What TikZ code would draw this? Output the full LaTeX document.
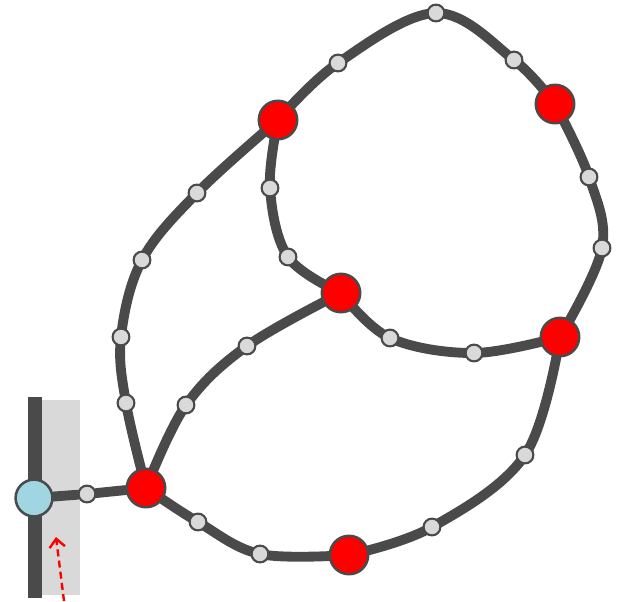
\documentclass[tikz,border=0pt]{standalone}
\usetikzlibrary{backgrounds,arrows.meta}

\definecolor{edgegray}{HTML}{4A4A4A}
\definecolor{portblue}{HTML}{A0D6E2}
\definecolor{wallgray}{HTML}{D9D9D9}

\begin{document}
\begin{tikzpicture}[
        x=0.025cm,
        y=-0.025cm,
        % junction nodes (red)
        junction/.style={
            circle,
            draw=edgegray,
            fill=red,
            line width=1.8pt,
            minimum size=0.96cm,
            inner sep=0pt
        },
        % intermediate points (small gray)
        waypoint/.style={
            circle,
            draw=edgegray,
            fill=wallgray,
            line width=1.5pt,
            minimum size=0.42cm,
            inner sep=0pt
        },
        % inlet node (light blue)
        port/.style={
            circle,
            draw=edgegray,
            fill=portblue,
            line width=1.8pt,
            minimum size=0.92cm,
            inner sep=0pt
        },
        % thick curved pipe
        pipe/.style={
            draw=edgegray,
            line width=7pt,
            line cap=round
        },
        % flow direction arrow
        flow_arrow/.style={
            -{Straight Barb[length=6pt,width=11pt]},
            color=red,
            dash pattern=on 5pt off 3pt,
            line width=1.7pt
        }
    ]
    \useasboundingbox (0,0) rectangle (617,601);

    % --- 1. junctions ---
    \node (r1) [junction] at (278,120) {};
    \node (r2) [junction] at (555,104) {};
    \node (r3) [junction] at (341,293) {};
    \node (r4) [junction] at (560,337) {};
    \node (r5) [junction] at (146,488) {};
    \node (r6) [junction] at (349,555) {};

    % inlet
    \node (in) [port] at (34,498) {};

    % --- 2. intermediate points ---
    \node (w0)  [waypoint] at (87,494) {};
    \node (w1)  [waypoint] at (126,403) {};
    \node (w2)  [waypoint] at (121,337) {};
    \node (w3)  [waypoint] at (142,260) {};
    \node (w4)  [waypoint] at (197,193) {};
    \node (w5)  [waypoint] at (338,63) {};
    \node (w6)  [waypoint] at (436,13) {};
    \node (w7)  [waypoint] at (514,60) {};
    \node (w8)  [waypoint] at (589,177) {};
    \node (w9)  [waypoint] at (602,248) {};
    \node (w10) [waypoint] at (525,455) {};
    \node (w11) [waypoint] at (432,527) {};
    \node (w12) [waypoint] at (260,554) {};
    \node (w13) [waypoint] at (198,522) {};
    \node (w14) [waypoint] at (270,188) {};
    \node (w15) [waypoint] at (288,257) {};
    \node (w16) [waypoint] at (390,338) {};
    \node (w17) [waypoint] at (474,353) {};
    \node (w18) [waypoint] at (186,405) {};
    \node (w19) [waypoint] at (247,346) {};

    \coordinate (a_start) at (64,601);
    \coordinate (a_end) at (56,537);

    % --- 3. wall and pipes (behind the nodes) ---
    \begin{pgfonlayer}{background}
        \fill[wallgray] (42,400) rectangle (80,595);
        \draw[edgegray, line width=10pt] (35,397) -- (35,598);

        \draw[pipe] plot[smooth, tension=0.6] coordinates {(r5) (w1) (w2) (w3) (w4) (r1)};
        \draw[pipe] plot[smooth, tension=0.6] coordinates {(r1) (w5) (w6) (w7) (r2)};
        \draw[pipe] plot[smooth, tension=0.6] coordinates {(r2) (w8) (w9) (r4)};
        \draw[pipe] plot[smooth, tension=0.6] coordinates {(r4) (w10) (w11) (r6)};
        \draw[pipe] plot[smooth, tension=0.6] coordinates {(r6) (w12) (w13) (r5)};
        \draw[pipe] plot[smooth, tension=0.6] coordinates {(r1) (w14) (w15) (r3)};
        \draw[pipe] plot[smooth, tension=0.6] coordinates {(r3) (w16) (w17) (r4)};
        \draw[pipe] plot[smooth, tension=0.6] coordinates {(r5) (w18) (w19) (r3)};
        \draw[pipe] (in) -- (w0) -- (r5);
    \end{pgfonlayer}

    % --- 4. inflow ---
    \draw[flow_arrow] (a_start) -- (a_end);

\end{tikzpicture}
\end{document}
